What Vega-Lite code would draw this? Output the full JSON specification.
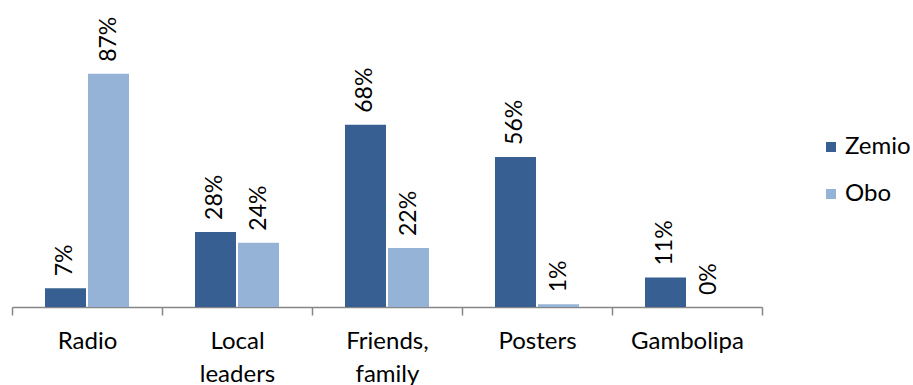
{
  "$schema": "https://vega.github.io/schema/vega-lite/v6.json",
  "width": 750,
  "height": 268,
  "autosize": {"type": "none"},
  "padding": {"left": 12, "top": 39, "right": 151, "bottom": 78},
  "background": "white",
  "config": {"view": {"stroke": null}, "font": "Lato"},
  "data": {
    "values": [
      {"source": "Radio", "site": "Zemio", "pct": 0.07},
      {"source": "Radio", "site": "Obo", "pct": 0.87},
      {"source": "Local leaders", "site": "Zemio", "pct": 0.28},
      {"source": "Local leaders", "site": "Obo", "pct": 0.24},
      {"source": "Friends, family", "site": "Zemio", "pct": 0.68},
      {"source": "Friends, family", "site": "Obo", "pct": 0.22},
      {"source": "Posters", "site": "Zemio", "pct": 0.56},
      {"source": "Posters", "site": "Obo", "pct": 0.01},
      {"source": "Gambolipa", "site": "Zemio", "pct": 0.11},
      {"source": "Gambolipa", "site": "Obo", "pct": 0.0}
    ]
  },
  "encoding": {
    "x": {
      "field": "source",
      "type": "nominal",
      "sort": ["Radio", "Local leaders", "Friends, family", "Posters", "Gambolipa"],
      "scale": {"paddingInner": 0, "paddingOuter": 0},
      "axis": {
        "title": null,
        "labelAngle": 0,
        "labelExpr": "split(datum.label, ' ')",
        "labelFontSize": 24,
        "labelColor": "#000000",
        "labelLineHeight": 33,
        "labelPadding": 14,
        "tickBand": "extent",
        "tickSize": 8,
        "tickColor": "#868686",
        "tickWidth": 1.5,
        "domainColor": "#868686",
        "domainWidth": 1.5,
        "grid": false
      }
    },
    "xOffset": {
      "field": "site",
      "type": "nominal",
      "sort": ["Zemio", "Obo"],
      "scale": {"paddingInner": 0.047, "paddingOuter": 0.767}
    },
    "y": {
      "field": "pct",
      "type": "quantitative",
      "scale": {"domain": [0, 1]},
      "axis": null
    }
  },
  "layer": [
    {
      "mark": {"type": "bar"},
      "encoding": {
        "color": {
          "field": "site",
          "type": "nominal",
          "sort": ["Zemio", "Obo"],
          "scale": {"domain": ["Zemio", "Obo"], "range": ["#385F91", "#95B3D7"]},
          "legend": {
            "title": null,
            "orient": "none",
            "legendX": 807,
            "legendY": 96,
            "symbolType": "square",
            "symbolSize": 100,
            "symbolStrokeWidth": 0,
            "labelFontSize": 24,
            "labelColor": "#000000",
            "labelOffset": 2,
            "rowPadding": 23
          }
        }
      }
    },
    {
      "mark": {
        "type": "text",
        "angle": 270,
        "align": "left",
        "baseline": "middle",
        "dx": 12,
        "fontSize": 23,
        "color": "#000000"
      },
      "encoding": {
        "text": {"field": "pct", "type": "quantitative", "format": ".0%"}
      }
    }
  ]
}
